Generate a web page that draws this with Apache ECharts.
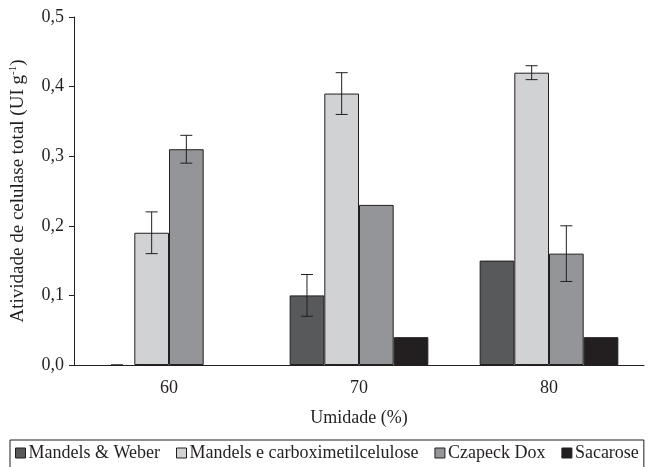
<!DOCTYPE html>
<html><head><meta charset="utf-8">
<script src="https://cdn.jsdelivr.net/npm/echarts@6/dist/echarts.min.js"></script>
<style>html,body{margin:0;padding:0;background:#fff}#c{width:648px;height:467px}</style>
</head><body><div id="c"></div>
<script>
var categories = ['60', '70', '80'];
var seriesNames = ['Mandels & Weber', 'Mandels e carboximetilcelulose', 'Czapeck Dox', 'Sacarose'];
var mandelsWeber = [0, 0.10, 0.15];
var mandelsCMC = [0.19, 0.39, 0.42];
var czapeck = [0.31, 0.23, 0.16];
var sacarose = [null, 0.04, 0.04];
// error bar ranges [low, high]; null = none
var errMandelsWeber = [[0, 0], [0.07, 0.13], null];
var errMandelsCMC = [[0.16, 0.22], [0.36, 0.42], [0.41, 0.43]];
var errCzapeck = [[0.29, 0.33], null, [0.12, 0.20]];
var errSacarose = [null, null, null];

var values = [mandelsWeber, mandelsCMC, czapeck, sacarose];
var errs = [errMandelsWeber, errMandelsCMC, errCzapeck, errSacarose];
var colors = ['#58595b', '#d1d2d4', '#939598', '#231f20'];
var GAP = 0.27;
var FONT = 'Liberation Serif';
var FS = 18;

var series = [];
values.forEach(function (v, i) {
  series.push({
    name: seriesNames[i], type: 'bar',
    data: v.map(function (d) { return d === 0 ? { value: 0, itemStyle: { borderWidth: 0 } } : d; }),
    barGap: '0%', barCategoryGap: (GAP * 100) + '%',
    itemStyle: { color: colors[i], borderColor: '#231f20', borderWidth: 1 },
    emphasis: { disabled: true }
  });
});
errs.forEach(function (e, i) {
  var data = [];
  e.forEach(function (r, j) { if (r) data.push([j, r[0], r[1]]); });
  series.push({
    type: 'custom', silent: true, z: 10,
    data: data,
    renderItem: function (params, api) {
      var x = api.value(0);
      var lo = api.coord([x, api.value(1)]);
      var hi = api.coord([x, api.value(2)]);
      var band = api.size([1, 0])[0];
      var bw = band * (1 - GAP) / 4;
      var cx = lo[0] + (i - 1.5) * bw;
      var cap = 6;
      var st = { stroke: '#231f20', lineWidth: 1 };
      return { type: 'group', children: [
        { type: 'line', shape: { x1: cx, y1: lo[1], x2: cx, y2: hi[1] }, style: st },
        { type: 'line', shape: { x1: cx - cap, y1: lo[1], x2: cx + cap, y2: lo[1] }, style: st },
        { type: 'line', shape: { x1: cx - cap, y1: hi[1], x2: cx + cap, y2: hi[1] }, style: st }
      ]};
    }
  });
});

var chart = echarts.init(document.getElementById('c'));
chart.setOption({
  animation: false,
  textStyle: { fontFamily: FONT },
  grid: { left: 72, right: 4, top: 17, bottom: 102, containLabel: false },
  legend: {
    data: seriesNames.map(function (n) { return { name: n, icon: 'rect' }; }),
    left: 10, top: 440, width: 640,
    itemWidth: 10, itemHeight: 10, itemGap: 16,
    padding: [4, 5, 6, 5],
    borderColor: '#231f20', borderWidth: 1,
    textStyle: { fontFamily: FONT, fontSize: FS, color: '#231f20', padding: [0, 0, 0, -2] },
    itemStyle: { borderColor: '#231f20', borderWidth: 1 },
    selectedMode: false
  },
  xAxis: {
    type: 'category', data: categories,
    name: 'Umidade (%)', nameLocation: 'middle', nameGap: 44,
    nameTextStyle: { fontFamily: FONT, fontSize: FS, color: '#231f20' },
    axisLine: { lineStyle: { color: '#231f20', width: 1 } },
    axisTick: { length: 5, lineStyle: { color: '#231f20' } },
    axisLabel: { fontFamily: FONT, fontSize: FS, color: '#231f20', margin: 14 }
  },
  yAxis: {
    type: 'value', min: 0, max: 0.5, interval: 0.1,
    name: 'Atividade de celulase total (UI g{sup|-1})', nameLocation: 'middle', nameGap: 46,
    nameTextStyle: { fontFamily: FONT, fontSize: 19, color: '#231f20',
      rich: { sup: { fontFamily: FONT, fontSize: 11, color: '#231f20', verticalAlign: 'top', padding: [0, 0, 9, 0] } } },
    axisLine: { show: true, lineStyle: { color: '#231f20', width: 1 } },
    axisTick: { show: true, length: 5, lineStyle: { color: '#231f20' } },
    splitLine: { show: false },
    axisLabel: { fontFamily: FONT, fontSize: FS, color: '#231f20', margin: 10,
      formatter: function (v) { return v.toFixed(1).replace('.', ','); } }
  },
  series: series
});
</script></body></html>
